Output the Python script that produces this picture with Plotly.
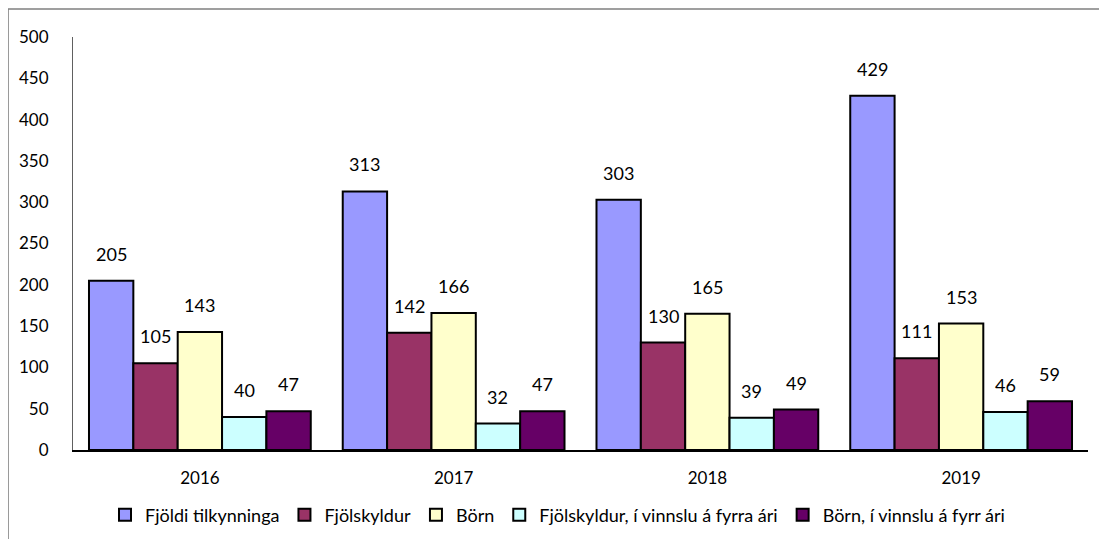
import plotly.graph_objects as go

years = ["2016", "2017", "2018", "2019"]
series_names = [
    "Fjöldi tilkynninga",
    "Fjölskyldur",
    "Börn",
    "Fjölskyldur, í vinnslu á fyrra ári",
    "Börn, í vinnslu á fyrr ári",
]
fjoldi = [205, 313, 303, 429]
fjolskyldur = [105, 142, 130, 111]
born = [143, 166, 165, 153]
fjolskyldur_fyrra = [40, 32, 39, 46]
born_fyrra = [47, 47, 49, 59]

colors = ["#9999FF", "#993366", "#FFFFCC", "#CCFFFF", "#660066"]
values = [fjoldi, fjolskyldur, born, fjolskyldur_fyrra, born_fyrra]

# page body adds 8px margin, so the figure is a bit smaller than the window
W, H = 1099, 531
ml, mr, mt, mb = 65, 19, 29, 89
bargap = 0.126
bar_px = (W - ml - mr) / len(years) * (1 - bargap) / len(series_names)

fig = go.Figure()
for i, (name, vals, col) in enumerate(zip(series_names, values, colors)):
    fig.add_trace(
        go.Bar(
            x=years,
            y=vals,
            name=name,
            marker=dict(color=col, line=dict(color="black", width=2)),
        )
    )
    # value labels: category index (numeric strings would be read as indices)
    for j, v in enumerate(vals):
        fig.add_annotation(
            x=j, y=v, text=str(v), showarrow=False,
            xshift=(i - 2) * bar_px, yshift=14, yanchor="bottom",
            font=dict(size=18, color="black"),
        )

fig.update_layout(
    width=W,
    height=H,
    barmode="group",
    bargap=bargap,
    bargroupgap=0,
    plot_bgcolor="white",
    paper_bgcolor="white",
    font=dict(family="Lato, Noto Sans, sans-serif", size=17, color="black"),
    margin=dict(l=ml, r=mr, t=mt, b=mb, autoexpand=False),
    legend=dict(
        orientation="h",
        x=0.5,
        xanchor="center",
        xref="container",
        y=0.045,
        yanchor="middle",
        yref="container",
        font=dict(size=18),
        itemwidth=30,
        traceorder="normal",
    ),
    showlegend=True,
)
fig.update_yaxes(
    range=[0, 500],
    dtick=50,
    showgrid=False,
    showline=True,
    linecolor="#606060",
    linewidth=1,
    ticks="",
    ticklabelstandoff=20,
    zeroline=False,
    automargin=False,
)
fig.update_xaxes(
    type="category",
    range=[-0.5, len(years) - 0.5],
    showline=True,
    linecolor="black",
    linewidth=1.5,
    ticks="",
    ticklabelstandoff=12,
    showgrid=False,
    automargin=False,
)
fig.add_shape(
    type="rect",
    xref="paper",
    yref="paper",
    x0=-0.064,
    x1=1.2,
    y0=-0.3,
    y1=1.068,
    line=dict(color="#808080", width=1.5),
    layer="below",
)

fig.write_html("out.html")
